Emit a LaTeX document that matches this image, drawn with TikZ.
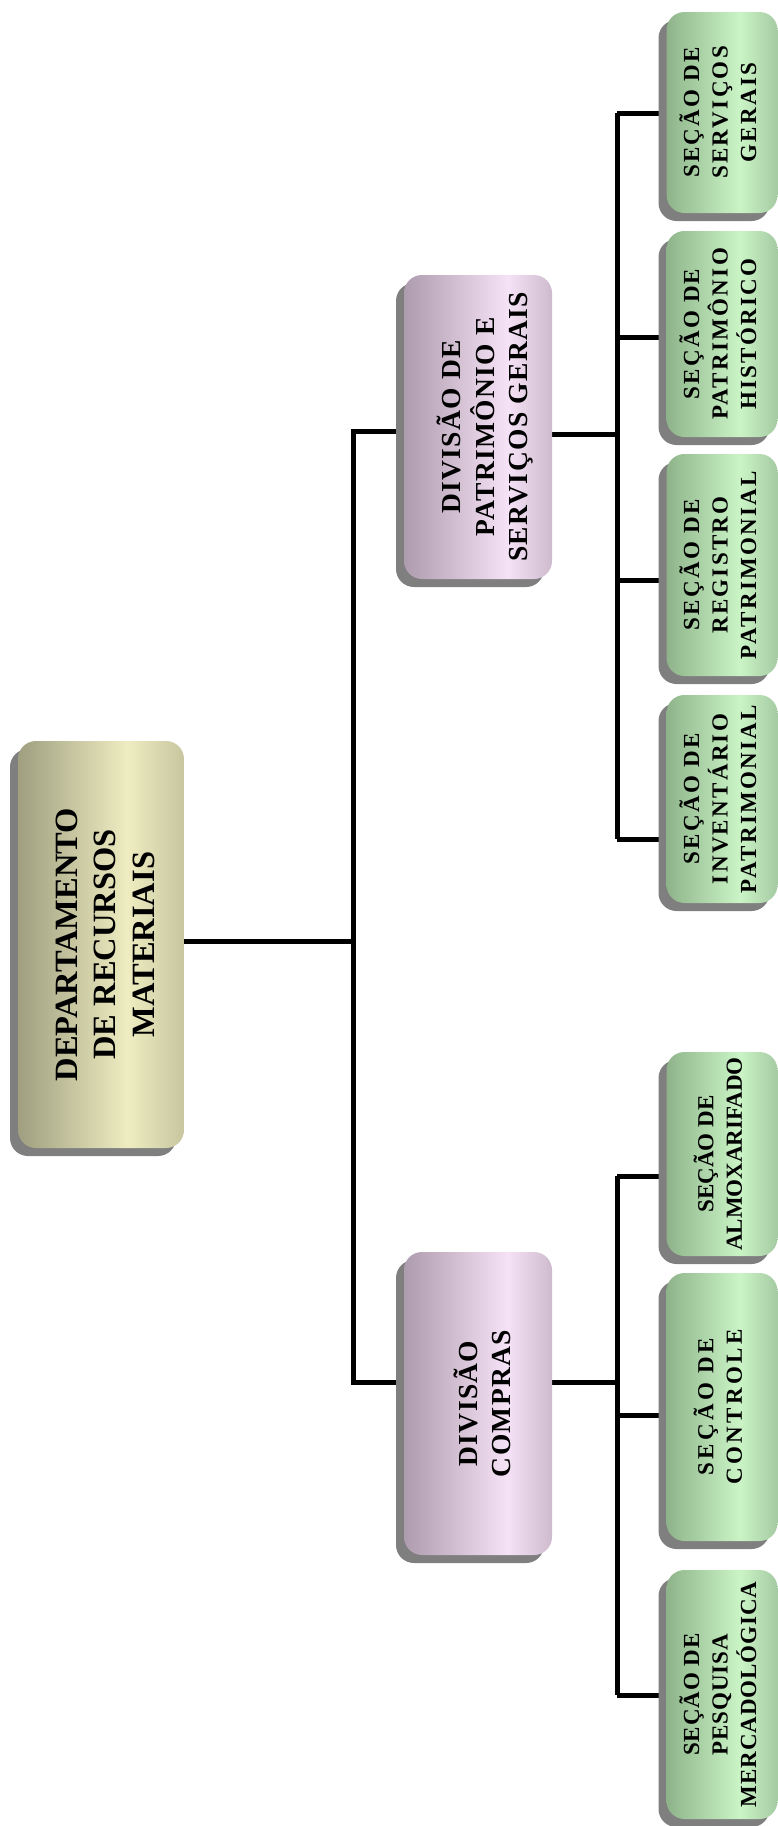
\documentclass[tikz,border=0pt]{standalone}
\usepackage{fontspec}
\setmainfont{Liberation Serif}
\newfontfamily\rootfont{Liberation Serif}
\newfontfamily\divfont{Liberation Serif}[LetterSpace=5]
\newfontfamily\secfont{Liberation Serif}[LetterSpace=10]
\usepackage{graphicx}
\usetikzlibrary{shadows}

% box colours: dark edges, light band near the middle
\definecolor{olA}{HTML}{6C6C56}
\definecolor{olB}{HTML}{A6A686}
\definecolor{olC}{HTML}{EEECC0}
\definecolor{olD}{HTML}{8E8E70}
\definecolor{puA}{HTML}{7A6C7C}
\definecolor{puB}{HTML}{B8A6B8}
\definecolor{puC}{HTML}{F6E2F6}
\definecolor{puD}{HTML}{8A7A8A}
\definecolor{grA}{HTML}{5C7C5C}
\definecolor{grB}{HTML}{98BE94}
\definecolor{grC}{HTML}{CAF4C6}
\definecolor{grD}{HTML}{6C8C6C}
\definecolor{shadowgray}{HTML}{7F7F7F}

\pgfdeclarehorizontalshading{rootshade}{100bp}{color(0bp)=(olA); color(28bp)=(olB); color(58bp)=(olC); color(100bp)=(olD)}
\pgfdeclarehorizontalshading{divshade}{100bp}{color(0bp)=(puA); color(30bp)=(puB); color(60bp)=(puC); color(100bp)=(puD)}
\pgfdeclarehorizontalshading{secshade}{100bp}{color(0bp)=(grA); color(30bp)=(grB); color(58bp)=(grC); color(100bp)=(grD)}

\pgfdeclarelayer{background}
\pgfsetlayers{background,main}

\tikzset{
  orgbox/.style={draw=none, rounded corners=18pt, inner sep=0pt,
    general shadow={fill=shadowgray, shadow xshift=-8pt, shadow yshift=-8pt}},
  rootbox/.style={orgbox, shading=rootshade, minimum width=166pt, minimum height=407pt,
    font=\rootfont\bfseries\fontsize{32.5}{38.5}\selectfont},
  divbox/.style={orgbox, shading=divshade, minimum width=148pt,
    font=\divfont\bfseries\fontsize{27.5}{33.5}\selectfont},
  secbox/.style={orgbox, shading=secshade, minimum width=111pt,
    font=\secfont\bfseries\fontsize{23}{28.5}\selectfont},
  conn/.style={line width=5pt, black}
}
% vertical, bottom-to-top label; #1 moves it right of the box centre
\newcommand{\vlabel}[2][0pt]{\hspace*{#1}\rotatebox{90}{\begin{tabular}{@{}c@{}}#2\end{tabular}}}

\begin{document}
\begin{tikzpicture}[x=1pt, y=-1pt]
\useasboundingbox (0,0) rectangle (778,1826);

% department
\node[rootbox] (root) at (101,944.5) {\vlabel[14pt]{DEPARTAMENTO\\DE RECURSOS\\MATERIAIS}};

% divisions
\node[divbox, minimum height=304pt] (div1) at (478,427) {\vlabel[18pt]{DIVISÃO DE\\PATRIMÔNIO E\\SERVIÇOS GERAIS}};
\node[divbox, minimum height=303pt] (div2) at (478,1403.5) {\vlabel[18pt]{DIVISÃO\\COMPRAS}};

% sections
\node[secbox, minimum height=201pt] (sg)  at (722,112.5) {\vlabel{SEÇÃO DE\\SERVIÇOS\\GERAIS}};
\node[secbox, minimum height=206pt] (ph)  at (722,334)   {\vlabel{SEÇÃO DE\\PATRIMÔNIO\\HISTÓRICO}};
\node[secbox, minimum height=222pt] (rp)  at (722,565)   {\vlabel{SEÇÃO DE\\REGISTRO\\PATRIMONIAL}};
\node[secbox, minimum height=208pt] (ip)  at (722,799)   {\vlabel{SEÇÃO DE\\INVENTÁRIO\\PATRIMONIAL}};
\node[secbox, minimum height=204pt] (alm) at (722,1154)  {\addfontfeature{LetterSpace=0}\vlabel{SEÇÃO DE\\ALMOXARIFADO}};
\node[secbox, minimum height=268pt] (ctl) at (722,1407)  {\addfontfeature{LetterSpace=15}\vlabel{SEÇÃO DE\\CONTROLE}};
\node[secbox, minimum height=249pt] (pq)  at (722,1694.5){\addfontfeature{LetterSpace=4}\vlabel{SEÇÃO DE\\PESQUISA\\MERCADOLÓGICA}};

% junction points of the connector buses
\coordinate (jr) at (353,941);
\coordinate (j1) at (353,431);
\coordinate (j2) at (353,1382);
\coordinate (k1) at (617,434);
\coordinate (k2) at (617,1382);
\coordinate (s1) at (617,113);
\coordinate (s2) at (617,337);
\coordinate (s3) at (617,580);
\coordinate (s4) at (617,839);
\coordinate (t1) at (617,1176);
\coordinate (t2) at (617,1415);
\coordinate (t3) at (617,1695);

\begin{pgfonlayer}{background}
  \draw[conn] (root.east |- jr) -- (jr);
  \draw[conn] (j1 -| div1.west) -- (j1) -- (j2) -- (j2 -| div2.west);
  \draw[conn] (div1.east |- k1) -- (k1);
  \draw[conn] (s1) -- (s4);
  \draw[conn] (s1) -- (s1 -| sg.west);
  \draw[conn] (s2) -- (s2 -| ph.west);
  \draw[conn] (s3) -- (s3 -| rp.west);
  \draw[conn] (s4) -- (s4 -| ip.west);
  \draw[conn] (div2.east |- k2) -- (k2);
  \draw[conn] (t1) -- (t3);
  \draw[conn] (t1) -- (t1 -| alm.west);
  \draw[conn] (t2) -- (t2 -| ctl.west);
  \draw[conn] (t3) -- (t3 -| pq.west);
\end{pgfonlayer}
\end{tikzpicture}
\end{document}
